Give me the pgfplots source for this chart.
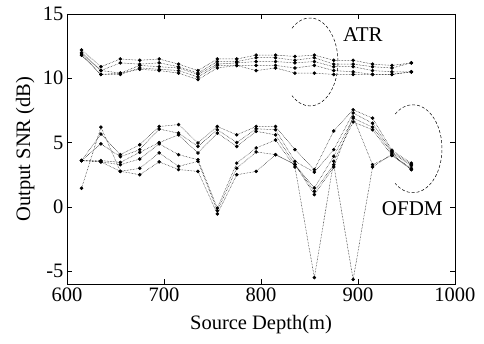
\documentclass[border=0pt]{standalone}
\usepackage{fontspec}
\setmainfont{Liberation Serif}
\usepackage{pgfplots}
\pgfplotsset{compat=1.18}
\usepackage{pgfplotstable}

\pgfplotstableread{
x   a1   a2   a3   a4   a5
615 12.2 12.0 11.9 11.8 11.8
635 10.9 10.6 10.6 10.3 10.3
655 11.5 11.2 10.4 10.3 10.4
675 11.4 11.1 11.0 10.8 10.7
695 11.5 11.2 10.9 10.7 10.6
715 11.1 10.9 10.8 10.6 10.4
735 10.6 10.4 10.3 10.1 9.9
755 11.5 11.3 11.1 11.0 10.8
775 11.5 11.3 11.2 11.0 11.0
795 11.8 11.6 11.3 11.0 10.6
815 11.8 11.6 11.3 11.0 10.8
835 11.7 11.4 11.2 10.8 10.4
855 11.8 11.6 11.3 11.0 10.4
875 11.4 11.1 10.9 10.6 10.3
895 11.4 11.1 10.9 10.5 10.3
915 11.1 10.9 10.6 10.3 10.3
935 11.0 10.8 10.5 10.3 10.3
955 11.2 11.2 10.5 10.5 10.5
}\atr

\pgfplotstableread{
x   o1   o2   o3   o4   o5    o6
615 3.6  3.6  3.6  3.6  3.6   1.45
635 5.66 4.9  3.6  3.5  3.5   6.2
655 4.06 3.9  3.46 3.28 2.76  2.76
675 4.83 4.45 4.24 3.72 3.0   2.5
695 6.25 6.05 5.0  4.9  4.2   3.5
715 6.4  5.74 5.6  4.06 3.15  2.9
735 4.97 4.7  4.19 3.67 3.54  2.76
755 6.25 6.0  5.74 -0.1 -0.3  -0.55
775 5.6  5.0  4.7  3.4  3.0   2.5
795 6.25 6.07 5.87 4.58 4.27  2.76
815 6.25 6.0  5.6  5.2  4.06  4.06
835 4.45 3.54 3.28 3.1  3.3   3.3
855 2.9  2.7  1.47 -5.5 1.2   0.95
875 5.9  4.45 3.93 3.54 3.28  3.1
895 7.55 7.3  6.9  6.6  -5.65 7.0
915 6.9  6.5  6.2  6.0  3.1   3.28
935 4.4  4.3  4.2  4.0  4.1   4.0
955 3.4  3.3  3.2  3.0  2.9   2.9
}\ofdm

\pgfplotsset{ser/.style={black, densely dotted, line width=0.5pt,
    mark=*, mark size=1.5pt, mark options={solid, fill=black}}}

\begin{document}
\begin{tikzpicture}
\begin{axis}[
  width=388pt, height=270pt, scale only axis,
  xmin=600, xmax=1000, ymin=-6, ymax=15,
  xtick={600,700,800,900,1000},
  ytick={-5,0,5,10,15},
  tick align=inside,
  major tick length=5pt,
  axis line style={line width=0.7pt},
  tick style={line width=0.6pt, black},
  /pgf/number format/assume math mode=true,
  /pgf/number format/1000 sep={},
  tick label style={font=\fontsize{20.5}{24}\selectfont},
  label style={font=\fontsize{20.5}{24}\selectfont},
  xlabel={Source Depth(m)},
  ylabel={Output SNR (dB)},
  xlabel style={at={(axis description cs:0.5,-0.152)},anchor=center},
  ylabel style={at={(axis description cs:-0.108,0.5)},anchor=center},
  clip=false,
]
\addplot[ser] table[x=x,y=a1]{\atr};
\addplot[ser] table[x=x,y=a2]{\atr};
\addplot[ser] table[x=x,y=a3]{\atr};
\addplot[ser] table[x=x,y=a4]{\atr};
\addplot[ser] table[x=x,y=a5]{\atr};
\addplot[ser] table[x=x,y=o1]{\ofdm};
\addplot[ser] table[x=x,y=o2]{\ofdm};
\addplot[ser] table[x=x,y=o3]{\ofdm};
\addplot[ser] table[x=x,y=o4]{\ofdm};
\addplot[ser] table[x=x,y=o5]{\ofdm};
\addplot[ser] table[x=x,y=o6]{\ofdm};
\draw[densely dashed, line width=0.5pt] (axis cs:850.5,11.27) ++(130:28pt and 44pt)
  arc[start angle=130, end angle=-130, x radius=28pt, y radius=44pt];
\draw[densely dashed, line width=0.5pt] (axis cs:956.7,4.52) ++(128:29pt and 44pt)
  arc[start angle=128, end angle=-128, x radius=29pt, y radius=44pt];
\node[font=\fontsize{21}{24}\selectfont] at (axis cs:905,13.37) {ATR};
\node[font=\fontsize{21}{24}\selectfont] at (axis cs:956,-0.15) {OFDM};
\path ([xshift=-67pt,yshift=-60pt]rel axis cs:0,0) ([xshift=29pt,yshift=14pt]rel axis cs:1,1);
\end{axis}
\end{tikzpicture}
\end{document}
